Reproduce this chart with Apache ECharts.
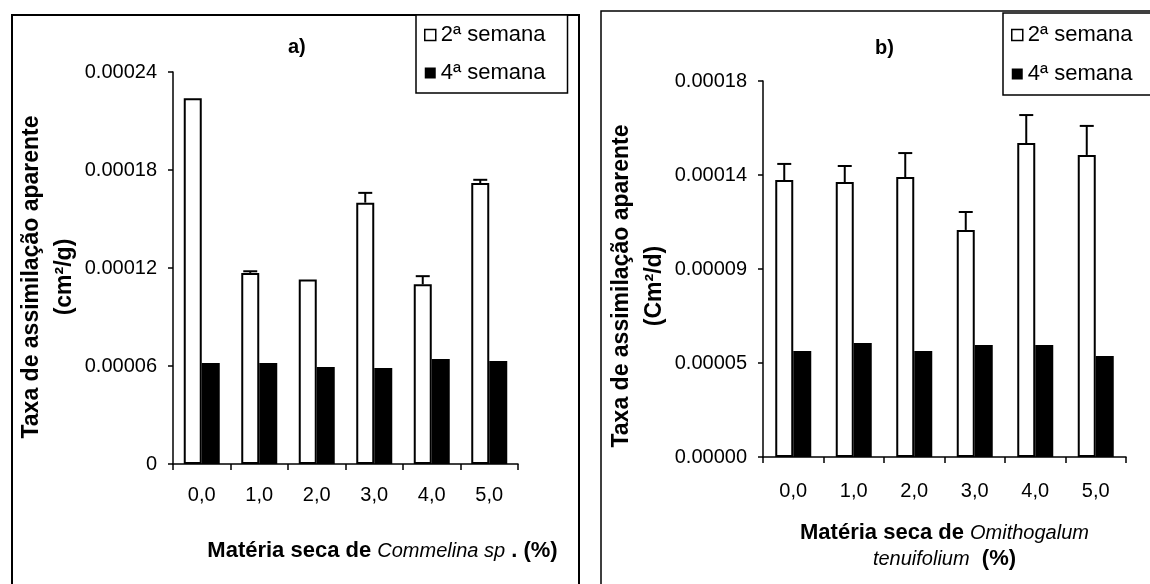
<!DOCTYPE html>
<html>
<head>
<meta charset="utf-8">
<script src="https://cdn.jsdelivr.net/npm/echarts@6/dist/echarts.min.js"></script>
<style>
html, body { margin: 0; padding: 0; background: #fff; }
#chart { width: 1150px; height: 584px; }
</style>
</head>
<body>
<div id="chart"></div>
<script>
var categories = ['0,0', '1,0', '2,0', '3,0', '4,0', '5,0'];
var names = ['2ª semana', '4ª semana'];

// a) Commelina sp.
var semana2A = [0.000224, 0.000117, 0.000113, 0.000160, 0.000110, 0.000172];
var erro2A   = [0, 0.000001, 0, 0.000006, 0.000005, 0.000002];
var semana4A = [0.0000618, 0.0000618, 0.0000594, 0.0000588, 0.0000643, 0.0000631];
var ticksA = ['0', '0.00006', '0.00012', '0.00018', '0.00024'];

// b) Omithogalum tenuifolium
var semana2B = [0.0001326, 0.0001316, 0.000134, 0.0001087, 0.0001503, 0.0001446];
var erro2B   = [0.0000077, 0.0000077, 0.0000115, 0.0000086, 0.0000134, 0.0000139];
var semana4B = [0.0000507, 0.0000546, 0.0000507, 0.0000536, 0.0000536, 0.0000484];
var ticksB = ['0.00000', '0.00005', '0.00009', '0.00014', '0.00018'];

var font = 'Liberation Sans, Arial, sans-serif';

function errData(vals, errs) {
    var out = [];
    vals.forEach(function (v, i) {
        if (errs[i] > 0) out.push([i, v, v + errs[i]]);
    });
    return out;
}

function errorItem(params, api) {
    var i = api.value(0);
    var base = api.coord([i, api.value(1)]);
    var top = api.coord([i, api.value(2)]);
    var x = base[0] - 9;
    return {
        type: 'group',
        children: [
            { type: 'line', shape: { x1: x, y1: base[1], x2: x, y2: top[1] }, style: { stroke: '#000', lineWidth: 2 } },
            { type: 'line', shape: { x1: x - 7, y1: top[1], x2: x + 7, y2: top[1] }, style: { stroke: '#000', lineWidth: 2 } }
        ]
    };
}

function makeX(gridIndex, name, gap, pad, labelMargin) {
    return {
        type: 'category',
        gridIndex: gridIndex,
        data: categories,
        axisLine: { lineStyle: { color: '#000', width: 1.5 } },
        axisTick: { show: true, length: 6, lineStyle: { color: '#000', width: 1.5 } },
        axisLabel: { color: '#000', fontSize: 20, fontFamily: font, margin: labelMargin },
        name: name,
        nameLocation: 'middle',
        nameGap: gap,
        nameTextStyle: {
            color: '#000',
            fontFamily: font,
            lineHeight: 26,
            padding: pad,
            rich: {
                b: { fontWeight: 'bold', fontSize: 22, fontFamily: font, color: '#000' },
                i: { fontStyle: 'italic', fontSize: 20, fontFamily: font, color: '#000' }
            }
        }
    };
}

function makeY(gridIndex, max, interval, ticks, name, gap, pad) {
    return {
        type: 'value',
        gridIndex: gridIndex,
        min: 0,
        max: max,
        interval: interval,
        splitLine: { show: false },
        axisLine: { show: true, lineStyle: { color: '#000', width: 1.5 } },
        axisTick: { show: true, length: 5, lineStyle: { color: '#000', width: 1.5 } },
        axisLabel: {
            color: '#000', fontSize: 20, fontFamily: font, margin: 16,
            formatter: function (v) { return ticks[Math.round(v / interval)]; }
        },
        name: name,
        nameLocation: 'middle',
        nameRotate: 90,
        nameGap: gap,
        nameTextStyle: {
            color: '#000', fontWeight: 'bold', fontSize: 23, fontFamily: font,
            lineHeight: 33, padding: pad
        }
    };
}

function makeLegend(left, top, pad, gap) {
    return {
        left: left,
        top: top,
        orient: 'vertical',
        padding: pad,
        itemGap: gap,
        itemWidth: 11,
        itemHeight: 11,
        itemTextGap: 4,
        borderColor: '#000',
        borderWidth: 1.5,
        backgroundColor: '#fff',
        textStyle: { color: '#000', fontSize: 22, fontFamily: font, lineHeight: 22 },
        data: [
            { name: names[0], icon: 'rect', itemStyle: { color: '#fff', borderColor: '#000', borderWidth: 1.5 } },
            { name: names[1], icon: 'rect', itemStyle: { color: '#000', borderWidth: 0 } }
        ]
    };
}

var chart = echarts.init(document.getElementById('chart'));

var option = {
    backgroundColor: '#fff',
    animation: false,
    title: [
        { text: 'a)', left: 288, top: 37, padding: 0, textStyle: { fontSize: 20, fontWeight: 'bold', fontFamily: font, color: '#000' } },
        { text: 'b)', left: 875, top: 38, padding: 0, textStyle: { fontSize: 20, fontWeight: 'bold', fontFamily: font, color: '#000' } }
    ],
    legend: [
        makeLegend(416, 15, [9, 22, 9, 8], 16),
        makeLegend(1003, 13, [11, 30, 10, 8], 17)
    ],
    grid: [
        { left: 173, right: 632, top: 72, bottom: 120 },
        { left: 763, right: 24, top: 81, bottom: 127 }
    ],
    xAxis: [
        makeX(0, '{b|Matéria seca de }{i|Commelina sp}{b| . (%)}', 74, [0, 0, 0, 74], 21),
        makeX(1, '{b|Matéria seca de }{i|Omithogalum}\n{i|tenuifolium}{b|  (%)}', 63, [0, 0, 0, 0], 24)
    ],
    yAxis: [
        makeY(0, 0.00024, 0.00006, ticksA, 'Taxa de assimilação aparente\n(cm²/g)', 92, [0, 18, 0, 0]),
        makeY(1, 0.00018, 0.000045, ticksB, 'Taxa de assimilação aparente\n(Cm²/d)', 89, [0, 34, 0, 0])
    ],
    graphic: [
        { type: 'rect', shape: { x: 12, y: 15, width: 567, height: 600 }, style: { fill: 'none', stroke: '#000', lineWidth: 2 }, silent: true, z: 0 },
        { type: 'rect', shape: { x: 601, y: 11, width: 600, height: 600 }, style: { fill: 'none', stroke: '#000', lineWidth: 1.5 }, silent: true, z: 0 }
    ],
    series: [
        { name: names[0], type: 'bar', xAxisIndex: 0, yAxisIndex: 0, data: semana2A, barWidth: 18, barGap: '0%',
          itemStyle: { color: '#fff', borderColor: '#000', borderWidth: 2 } },
        { name: names[1], type: 'bar', xAxisIndex: 0, yAxisIndex: 0, data: semana4A, barWidth: 18, barGap: '0%',
          itemStyle: { color: '#000' } },
        { name: names[0], type: 'custom', xAxisIndex: 0, yAxisIndex: 0, data: errData(semana2A, erro2A),
          renderItem: errorItem, z: 5 },
        { name: names[0], type: 'bar', xAxisIndex: 1, yAxisIndex: 1, data: semana2B, barWidth: 18, barGap: '0%',
          itemStyle: { color: '#fff', borderColor: '#000', borderWidth: 2 } },
        { name: names[1], type: 'bar', xAxisIndex: 1, yAxisIndex: 1, data: semana4B, barWidth: 18, barGap: '0%',
          itemStyle: { color: '#000' } },
        { name: names[0], type: 'custom', xAxisIndex: 1, yAxisIndex: 1, data: errData(semana2B, erro2B),
          renderItem: errorItem, z: 5 }
    ]
};

chart.setOption(option);
</script>
</body>
</html>
